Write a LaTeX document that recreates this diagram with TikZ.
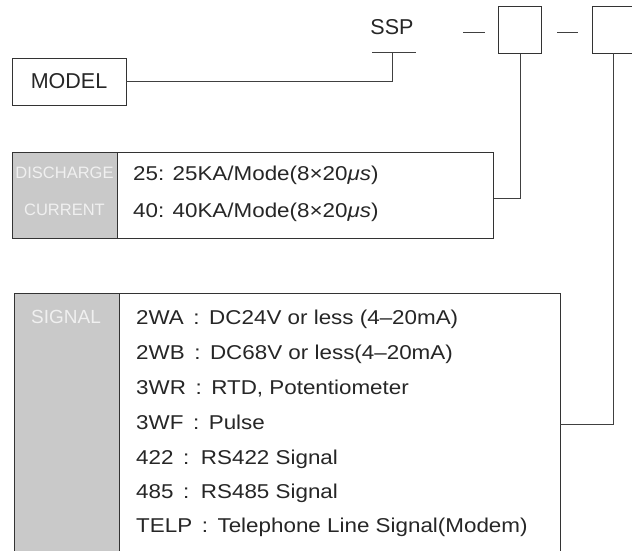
\documentclass[tikz,border=0pt]{standalone}
\usepackage{fontspec}
\setmainfont{Liberation Sans}
\newfontfamily\bodyfont[FakeStretch=1.12]{Liberation Sans}
\begin{document}
\begin{tikzpicture}[x=1pt,y=-1pt,
  frame/.style={draw=black!80,line width=0.9pt},
  wire/.style={draw=black!75,line width=0.9pt},
  big/.style={font=\fontsize{21.5}{24}\selectfont},
  row/.style={anchor=base west,inner sep=0pt,font=\bodyfont\fontsize{20}{22}\selectfont,text=black!85},
  paneltext/.style={inner sep=0pt,text=white!94!black,font=\fontsize{16.5}{18}\selectfont},
  ]
\useasboundingbox (0,0) rectangle (632,550);
\fill[white] (0,0) rectangle (632,550);
% MODEL
\node[frame,minimum width=114pt,minimum height=47pt,inner sep=0pt,big,text=black!85] (model) at (69,81.5) {MODEL};
% SSP
\node[big,inner sep=0pt,anchor=base,text=black!85] (ssp) at (392,34) {SSP};
\coordinate (ul1) at (372,52);
\coordinate (ul2) at (416,52);
\draw[wire] (ul1) -- (ul2);
\coordinate (sspj) at (392,52);
\draw[wire] (model.east) -- (sspj |- model.east) -- (sspj);
% dashes and boxes
\coordinate (d1a) at (463,32); \coordinate (d1b) at (485,32);
\coordinate (d2a) at (557,32); \coordinate (d2b) at (578,32);
\draw[wire] (d1a) -- (d1b);
\draw[wire] (d2a) -- (d2b);
\node[frame,minimum width=43pt,minimum height=47pt,inner sep=0pt,anchor=north west] (box1) at (498,6) {};
\coordinate (b2tl) at (592,6); \coordinate (b2bl) at (592,53);
\draw[frame] (634,6) -- (b2tl) -- (b2bl) -- (634,53);
\coordinate (box2) at (613,53);
% discharge box
\fill[black!21] (12,152) rectangle (117,238);
\node[frame,minimum width=481pt,minimum height=86pt,inner sep=0pt,anchor=north west] (dis) at (12,152) {};
\draw[frame] (117,152) -- (117,238);
\node[paneltext] (dis1) at (64.5,173) {DISCHARGE};
\node[paneltext] (dis2) at (64.5,210) {CURRENT};
\node[row] (r25) at (133,180.5) {25: 25KA/Mode(8×20\textit{μs})};
\node[row] (r40) at (133,217.5) {40: 40KA/Mode(8×20\textit{μs})};
\coordinate (j1) at (box1.south |- 0,198);
\draw[wire] (box1.south) -- (j1) -- (dis.east |- j1);
% signal box
\fill[black!21] (14,293) rectangle (119,552);
\draw[frame] (14,552) -- (14,293) -- (560,293) -- (560,552);
\draw[frame] (119,293) -- (119,552);
\node[paneltext,font=\fontsize{19}{21}\selectfont] (sig) at (66,317) {SIGNAL};
\node[row] (s1) at (136,324.5) {2WA \,:\, DC24V or less (4–20mA)};
\node[row] (s2) at (136,359.5) {2WB \,:\, DC68V or less(4–20mA)};
\node[row] (s3) at (136,394.5) {3WR \,:\, RTD, Potentiometer};
\node[row] (s4) at (136,429.5) {3WF \,:\, Pulse};
\node[row] (s5) at (136,464) {422 \,:\, RS422 Signal};
\node[row] (s6) at (136,498.5) {485 \,:\, RS485 Signal};
\node[row] (s7) at (136,532.5) {TELP \,:\, Telephone Line Signal(Modem)};
\coordinate (sigr) at (560,424);
\coordinate (j2) at (613,424);
\draw[wire] (box2) -- (j2) -- (sigr);
\end{tikzpicture}
\end{document}
